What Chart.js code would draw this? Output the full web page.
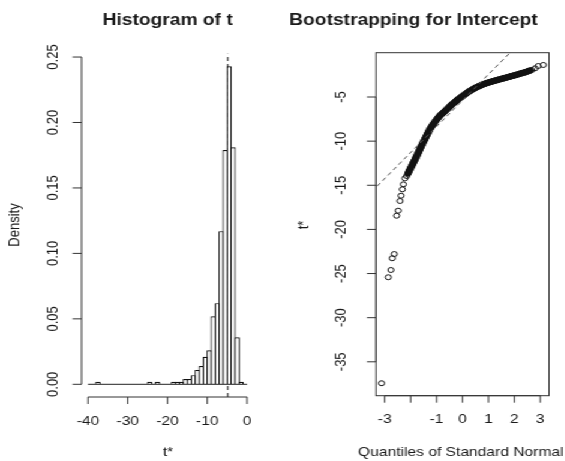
<!DOCTYPE html>
<html>
<head>
<meta charset="utf-8">
<title>Histogram of t / Bootstrapping for Intercept</title>
<script src="https://cdn.jsdelivr.net/npm/chart.js"></script>
<style>
  body { margin: 0; background: #fff; overflow: hidden; }
  /* the reference is stretched sideways, so draw narrow and widen */
  #wrap { position: absolute; left: 0; top: 0; width: 471px; height: 461px;
          display: flex; transform: scaleX(1.2); transform-origin: 0 0; }
  canvas { display: block; }
</style>
</head>
<body>
<div id="wrap">
  <canvas id="hist" width="235" height="461"></canvas>
  <canvas id="qq" width="236" height="461"></canvas>
</div>
<script>
// histogram of t*: left edge of each bin (width 1) and its density
var binLeft = [-40, -39, -38, -37, -36, -35, -34, -33, -32, -31,
               -30, -29, -28, -27, -26, -25, -24, -23, -22, -21,
               -20, -19, -18, -17, -16, -15, -14, -13, -12, -11,
               -10, -9, -8, -7, -6, -5, -4, -3, -2, -1];
var density = [0, 0, 0.002, 0, 0, 0, 0, 0, 0, 0,
               0, 0, 0, 0, 0, 0.002, 0, 0.002, 0, 0,
               0, 0.002, 0.002, 0.002, 0.004, 0.004, 0.007, 0.011, 0.014, 0.021,
               0.026, 0.052, 0.062, 0.117, 0.179, 0.243, 0.181, 0.036, 0.002, 0];
var tObserved = -4.85;
var histXTicks = [-40, -30, -20, -10, 0];
var histYTicks = [0, 0.05, 0.10, 0.15, 0.20, 0.25];
var histYLabels = ['0.00', '0.05', '0.10', '0.15', '0.20', '0.25'];

// normal QQ plot: theoretical quantile / bootstrap value
var qqX = [
  -3.12, -2.86, -2.76, -2.71, -2.63, -2.54, -2.48, -2.41, -2.37, -2.32, -2.28, -2.22,
  -2.15, -2.10, -2.05, -2.00, -1.95, -1.90, -1.85, -1.80, -1.75, -1.70,
  -1.65, -1.60, -1.55, -1.50, -1.45, -1.40, -1.35, -1.30, -1.25, -1.20,
  -1.15, -1.10, -1.05, -1.00, -0.95, -0.90, -0.85, -0.80, -0.75, -0.70,
  -0.65, -0.60, -0.55, -0.50, -0.45, -0.40, -0.35, -0.30, -0.25, -0.20,
  -0.15, -0.10, -0.05, 0.00, 0.05, 0.10, 0.15, 0.20, 0.25, 0.30,
  0.35, 0.40, 0.45, 0.50, 0.55, 0.60, 0.65, 0.70, 0.75, 0.80,
  0.85, 0.90, 0.95, 1.00, 1.05, 1.10, 1.15, 1.20, 1.25, 1.30,
  1.35, 1.40, 1.45, 1.50, 1.55, 1.60, 1.65, 1.70, 1.75, 1.80,
  1.85, 1.90, 1.95, 2.00, 2.05, 2.10, 2.15, 2.20, 2.25, 2.30,
  2.35, 2.40, 2.45, 2.50, 2.55, 2.60,
  2.67, 2.80, 2.92, 3.12
];
var qqY = [
  -37.43, -25.42, -24.60, -23.27, -22.79, -18.45, -17.88, -16.78, -16.18, -15.46, -14.89, -14.21,
  -13.95, -13.65, -13.35, -13.05, -12.77, -12.48, -12.20, -11.89, -11.58, -11.27,
  -10.96, -10.65, -10.35, -10.05, -9.76, -9.47, -9.18, -8.89, -8.62, -8.39,
  -8.17, -7.96, -7.76, -7.57, -7.39, -7.22, -7.06, -6.92, -6.80, -6.67,
  -6.53, -6.39, -6.25, -6.11, -5.97, -5.84, -5.71, -5.58, -5.46, -5.34,
  -5.23, -5.12, -5.01, -4.90, -4.79, -4.68, -4.58, -4.48, -4.38, -4.29,
  -4.20, -4.12, -4.04, -3.96, -3.89, -3.82, -3.75, -3.69, -3.63, -3.57,
  -3.51, -3.46, -3.41, -3.36, -3.32, -3.28, -3.23, -3.19, -3.15, -3.11,
  -3.07, -3.03, -2.99, -2.95, -2.91, -2.87, -2.83, -2.79, -2.75, -2.71,
  -2.67, -2.63, -2.59, -2.55, -2.51, -2.47, -2.42, -2.38, -2.33, -2.29,
  -2.25, -2.21, -2.16, -2.11, -2.06, -2.01,
  -1.94, -1.75, -1.49, -1.37
];
// the points between these two indexes sit so close they merge into a solid band
var denseFrom = 13, denseTo = 108;
var qqLineIntercept = -5.39;
var qqLineSlope = 2.95;
var qqXTicks = [-3, -2, -1, 0, 1, 2, 3];
var qqXLabels = ['-3', '', '-1', '0', '1', '2', '3'];
var qqYTicks = [-35, -30, -25, -20, -15, -10, -5];

var FONT = '"Liberation Sans", Arial, Helvetica, sans-serif';

// R style axes, labels and titles, placed with the chart's own scales
var rAxes = {
    id: 'rAxes',
    afterDraw: function (chart, args, o) {
        var ctx = chart.ctx, area = chart.chartArea;
        var xs = chart.scales.x, ys = chart.scales.y;
        var by = area.bottom, lx = area.left;
        ctx.save();
        ctx.strokeStyle = '#333';
        ctx.fillStyle = '#1a1a1a';
        ctx.lineWidth = 1;
        if (o.box) {
            ctx.strokeRect(area.left, area.top, area.right - area.left, area.bottom - area.top);
        }
        ctx.beginPath();
        ctx.moveTo(xs.getPixelForValue(o.xTicks[0]), by);
        ctx.lineTo(xs.getPixelForValue(o.xTicks[o.xTicks.length - 1]), by);
        o.xTicks.forEach(function (v) {
            var px = xs.getPixelForValue(v);
            ctx.moveTo(px, by);
            ctx.lineTo(px, by + 7);
        });
        ctx.moveTo(lx, ys.getPixelForValue(o.yTicks[0]));
        ctx.lineTo(lx, ys.getPixelForValue(o.yTicks[o.yTicks.length - 1]));
        o.yTicks.forEach(function (v) {
            var py = ys.getPixelForValue(v);
            ctx.moveTo(lx, py);
            ctx.lineTo(lx - 7.5, py);
        });
        ctx.stroke();

        ctx.font = '13px ' + FONT;
        ctx.textAlign = 'center';
        ctx.textBaseline = 'middle';
        o.xTicks.forEach(function (v, i) {
            ctx.fillText(o.xLabels[i], xs.getPixelForValue(v), by + 24);
        });
        o.yTicks.forEach(function (v, i) {
            ctx.save();
            ctx.translate(o.yLabelX, ys.getPixelForValue(v));
            ctx.rotate(-Math.PI / 2);
            ctx.fillText(o.yLabels[i], 0, 0);
            ctx.restore();
        });
        ctx.fillText(o.xTitle, o.xTitleX, 452);
        ctx.save();
        ctx.translate(o.yTitleX, 225);
        ctx.rotate(-Math.PI / 2);
        ctx.fillText(o.yTitle, 0, 0);
        ctx.restore();

        ctx.font = 'bold 16px ' + FONT;
        ctx.fillText(o.title, o.titleX, 21);
        ctx.restore();
    }
};

// histogram
var histMin = -0.0097, histMax = 0.2527;
var histBars = binLeft.map(function (b, i) { return {x: b + 0.5, y: density[i]}; });

new Chart(document.getElementById('hist'), {
    type: 'bar',
    data: {
        datasets: [
            {
                // drawn first, so the bars hide it
                type: 'line',
                data: [{x: tObserved, y: histMin}, {x: tObserved, y: histMax}],
                borderColor: '#111',
                borderWidth: 1,
                borderDash: [4, 3],
                pointRadius: 0,
                order: 3
            },
            {
                type: 'line',
                data: [{x: binLeft[0], y: 0}, {x: binLeft[binLeft.length - 1] + 1, y: 0}],
                borderColor: '#222',
                borderWidth: 1,
                pointRadius: 0,
                order: 1
            },
            {
                // a little wider than the bin so neighbours share one edge line
                type: 'bar',
                data: histBars,
                backgroundColor: '#fff',
                borderColor: '#111',
                borderWidth: 1.2,
                categoryPercentage: 1,
                barPercentage: 1.36,
                order: 2
            }
        ]
    },
    options: {
        responsive: false,
        animation: false,
        events: [],
        layout: {padding: {left: 68, right: 23.8, top: 53.5, bottom: 64}},
        scales: {
            x: {type: 'linear', min: -41.6, max: 1.6, offset: false, display: false},
            y: {min: histMin, max: histMax, display: false}
        },
        plugins: {
            legend: {display: false},
            tooltip: {enabled: false},
            rAxes: {
                title: 'Histogram of t', titleX: 139.75,
                xTitle: 't*', xTitleX: 140,
                yTitle: 'Density', yTitleX: 12.5,
                xTicks: histXTicks, xLabels: histXTicks.map(String),
                yTicks: histYTicks, yLabels: histYLabels, yLabelX: 44.6,
                box: false
            }
        }
    },
    plugins: [rAxes]
});

// normal QQ plot
var qqPoints = qqX.map(function (q, i) { return {x: q, y: qqY[i]}; });
var qqLine = [-3.5, 3.5].map(function (q) { return {x: q, y: qqLineIntercept + qqLineSlope * q}; });

new Chart(document.getElementById('qq'), {
    type: 'scatter',
    data: {
        datasets: [
            {
                type: 'line',
                data: qqLine,
                borderColor: '#555',
                borderWidth: 1,
                borderDash: [4, 3],
                pointRadius: 0
            },
            {
                // dense run of points: the circles overlap into a solid black band
                data: qqPoints.slice(denseFrom, denseTo),
                showLine: true,
                borderColor: '#111',
                borderWidth: 6,
                borderJoinStyle: 'round',
                borderCapStyle: 'round',
                pointStyle: 'circle',
                pointRadius: 2.7,
                pointBorderWidth: 1,
                pointBorderColor: '#111',
                pointBackgroundColor: 'rgba(0,0,0,0)'
            },
            {
                data: qqPoints.slice(0, denseFrom).concat(qqPoints.slice(denseTo)),
                pointStyle: 'circle',
                pointRadius: 2.5,
                pointBorderWidth: 1,
                pointBorderColor: '#111',
                pointBackgroundColor: 'rgba(0,0,0,0)'
            }
        ]
    },
    options: {
        responsive: false,
        animation: false,
        events: [],
        layout: {padding: {left: 78.3, right: 13.5, top: 52.7, bottom: 65.3}},
        scales: {
            x: {type: 'linear', min: -3.337, max: 3.337, display: false},
            y: {min: -38.84, max: 0.02, display: false}
        },
        plugins: {
            legend: {display: false},
            tooltip: {enabled: false},
            rAxes: {
                title: 'Bootstrapping for Intercept', titleX: 109.6,
                xTitle: 'Quantiles of Standard Normal', xTitleX: 149,
                yTitle: 't*', yTitleX: 18.3,
                xTicks: qqXTicks, xLabels: qqXLabels,
                yTicks: qqYTicks, yLabels: qqYTicks.map(String), yLabelX: 49.2,
                box: true
            }
        }
    },
    plugins: [rAxes]
});
</script>
</body>
</html>
